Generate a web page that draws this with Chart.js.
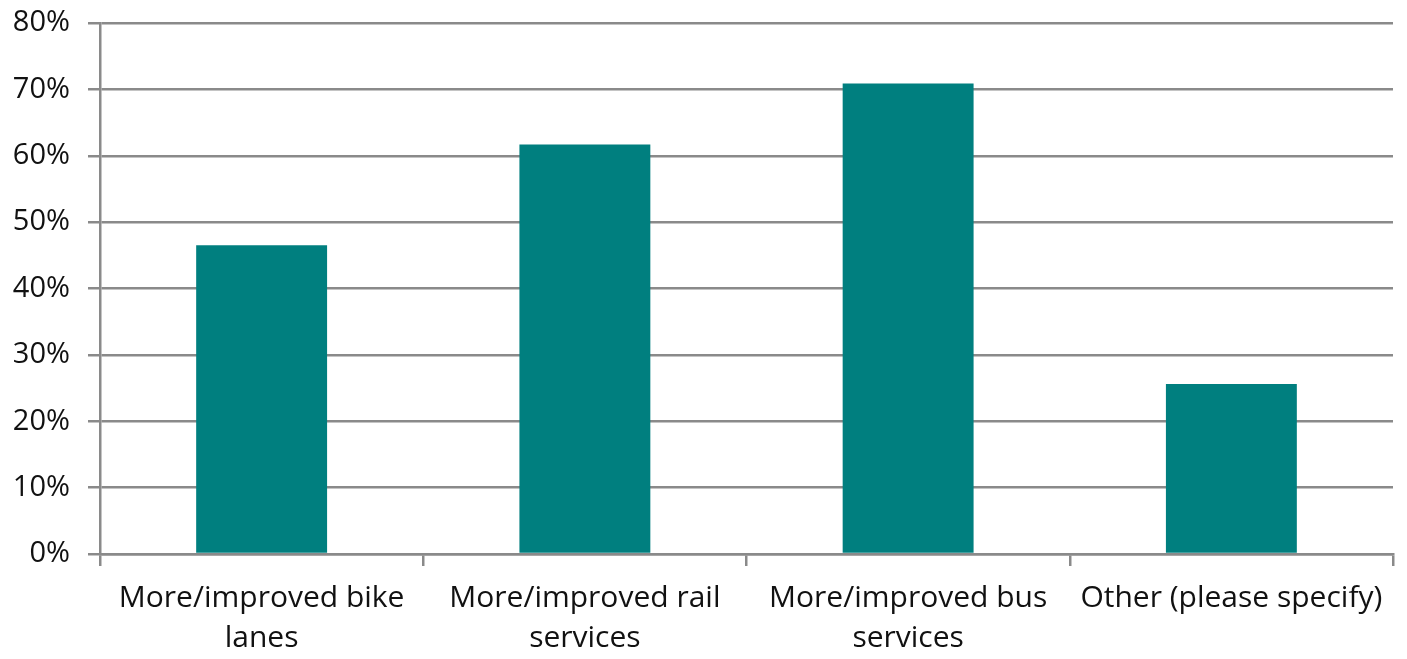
<!DOCTYPE html>
<html>
<head>
    <meta charset="UTF-8">
    <title>Transport improvements</title>
    <script src="https://cdn.jsdelivr.net/npm/chart.js"></script>
    <style>
        html, body { margin: 0; padding: 0; background: #fff; }
        #wrap { width: 1407px; height: 659px; }
    </style>
</head>
<body>
<div id="wrap"><canvas id="chart"></canvas></div>
<script>
    const categories = [
        ['More/improved bike', 'lanes'],
        ['More/improved rail', 'services'],
        ['More/improved bus', 'services'],
        ['Other (please specify)']
    ];
    const shares = [46.5, 61.7, 70.9, 25.6];
    const yTicks = [0, 10, 20, 30, 40, 50, 60, 70, 80];

    const axisGrey = '#8a8a8a';
    const fontFamily = '"Open Sans", "Liberation Sans", sans-serif';

    const ctx = document.getElementById('chart').getContext('2d');
    window.chart = new Chart(ctx, {
        type: 'bar',
        data: {
            labels: categories,
            datasets: [{
                data: shares,
                backgroundColor: '#007f7f',
                borderWidth: 0,
                barPercentage: 0.405,
                categoryPercentage: 1.0
            }]
        },
        options: {
            responsive: true,
            maintainAspectRatio: false,
            animation: false,
            layout: { padding: { top: 0, right: 14, bottom: 0, left: 0 } },
            plugins: {
                legend: { display: false },
                tooltip: { enabled: false }
            },
            scales: {
                x: {
                    grid: {
                        offset: true,
                        drawOnChartArea: false,
                        color: axisGrey,
                        lineWidth: 2.5,
                        tickLength: 12
                    },
                    border: { color: axisGrey, width: 2.5 },
                    ticks: {
                        color: '#111',
                        font: { family: fontFamily, size: 30, lineHeight: 1.35 },
                        padding: 12,
                        maxRotation: 0,
                        autoSkip: false
                    },
                    afterFit: function (scale) { scale.height = 105; }
                },
                y: {
                    min: 0,
                    max: 80,
                    afterBuildTicks: function (scale) {
                        scale.ticks = yTicks.map(v => ({ value: v }));
                    },
                    grid: {
                        color: axisGrey,
                        lineWidth: 2.5,
                        tickLength: 12
                    },
                    border: { color: axisGrey, width: 2.5 },
                    ticks: {
                        color: '#111',
                        font: { family: fontFamily, size: 29 },
                        padding: 18,
                        callback: v => v + '%'
                    },
                    afterFit: function (scale) {
                        scale.width = 100;
                        scale.paddingTop = 23;
                        scale.paddingBottom = 0;
                    }
                }
            }
        }
    });
</script>
</body>
</html>
